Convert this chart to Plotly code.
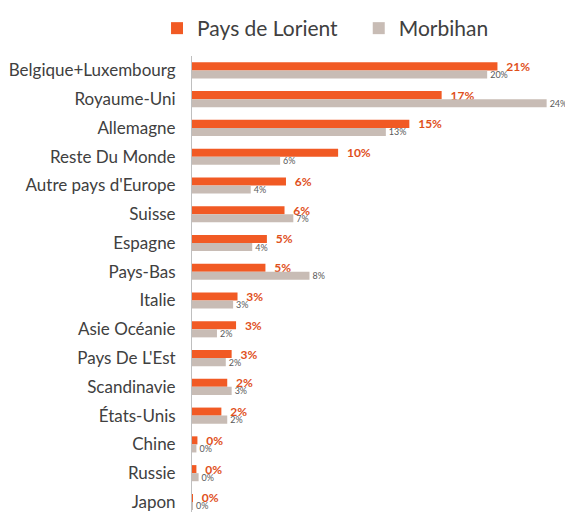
import plotly.graph_objects as go

categories = ["Belgique+Luxembourg", "Royaume-Uni", "Allemagne", "Reste Du Monde",
              "Autre pays d'Europe", "Suisse", "Espagne", "Pays-Bas", "Italie",
              "Asie Océanie", "Pays De L'Est", "Scandinavie", "États-Unis",
              "Chine", "Russie", "Japon"]
lorient = [20.8, 17.0, 14.8, 9.95, 6.4, 6.3, 5.1, 5.0, 3.1, 3.0, 2.7, 2.4, 2.0, 0.37, 0.3, 0.05]
morbihan = [20.1, 24.15, 13.2, 6.0, 4.0, 6.9, 4.1, 8.0, 2.8, 1.7, 2.3, 2.7, 2.4, 0.3, 0.45, 0.02]
series_names = ["Pays de Lorient", "Morbihan"]

ORANGE = "#f15a24"
GRAY = "#c8bcb5"
FONT = "Lato"
PAD = "\u00a0" * 3

fig = go.Figure()
fig.add_trace(go.Bar(
    y=categories, x=lorient, orientation="h", name=series_names[0] + PAD,
    marker=dict(color=ORANGE, line=dict(width=0)),
    texttemplate="\u00a0\u00a0%{x:.0f}%", textposition="outside", cliponaxis=False,
    constraintext="none",
    textfont=dict(family=FONT, size=12, color="#e0501c", weight="bold"),
))
fig.add_trace(go.Bar(
    y=categories, x=morbihan, orientation="h", name=series_names[1],
    marker=dict(color=GRAY, line=dict(width=0)),
    texttemplate="%{x:.0f}%", textposition="outside", cliponaxis=False,
    constraintext="none",
    textfont=dict(family=FONT, size=9, color="#595959"),
))

fig.update_layout(
    width=565, height=504,
    margin=dict(l=184, r=8, t=48, b=0, autoexpand=False),
    paper_bgcolor="white", plot_bgcolor="white",
    barmode="group", bargap=0.44, bargroupgap=0,
    font=dict(family=FONT, color="#404040"),
    legend=dict(orientation="h", xref="container", x=0.562, xanchor="center",
                y=1.0, yref="container", yanchor="top",
                font=dict(size=21, color="#404040")),
    showlegend=True,
)
fig.update_xaxes(range=[0, 25.4], visible=False, showgrid=False, zeroline=False)
fig.update_yaxes(range=[15.35, -0.5], showgrid=False, zeroline=False,
                 showline=True, linecolor="#bfbfbf", linewidth=1,
                 ticks="", ticklabelstandoff=12,
                 tickfont=dict(family=FONT, size=17, color="#404040"))

fig.write_html("out.html")
